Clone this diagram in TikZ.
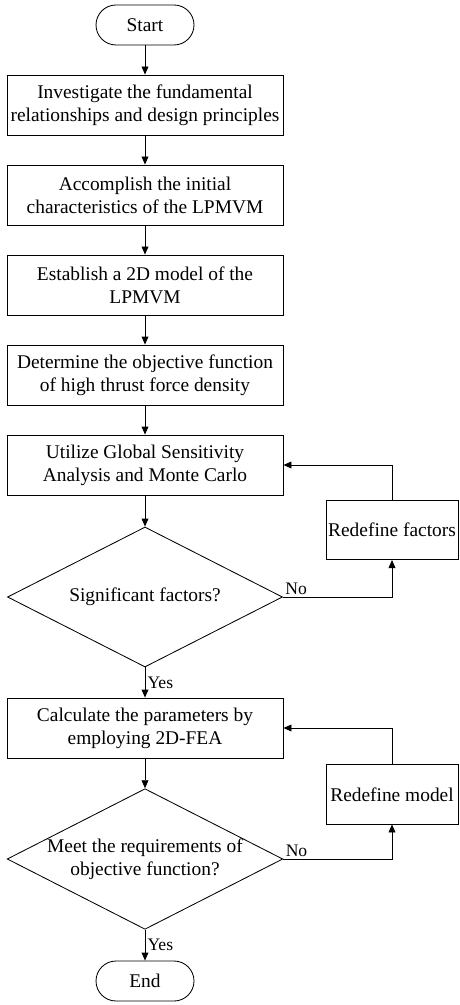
\documentclass[tikz,border=0pt]{standalone}
\usepackage{fontspec}
\setmainfont{Liberation Serif}
\usepackage{tikz}
\usetikzlibrary{positioning}
\usetikzlibrary{shapes.geometric}
\usetikzlibrary{arrows.meta}

\begin{document}
\begin{tikzpicture}[
		font=\fontsize{13.8}{16.4}\selectfont,
		every path/.style={line width=0.6pt},
		term/.style={draw, rectangle, rounded corners=5mm, minimum width=2.45cm, minimum height=1cm},
		stepbox/.style={draw, rectangle, align=center, minimum width=6.9cm, minimum height=1.5cm, inner sep=2pt},
		sidebox/.style={draw, rectangle, align=center, minimum width=3.3cm, minimum height=1.48cm, inner sep=1pt},
		decision/.style={draw, diamond, aspect=1.96, align=center, minimum width=6.875cm, minimum height=3.5cm, inner sep=0pt},
		lbl/.style={font=\fontsize{12.5}{14}\selectfont, inner sep=1.5pt},
		arr/.style={-{Triangle[length=2mm, width=1.7mm]}}]
		\useasboundingbox (0,0) rectangle (11.475,-25.125);
		
		\node at (3.625,-0.625) [term] (start) {Start};
		\node at (3.625,-2.625) [stepbox] (invest) {Investigate the fundamental\\relationships and design principles};
		\node at (3.625,-4.875) [stepbox] (accomp) {Accomplish the initial\\characteristics of the LPMVM};
		\node at (3.625,-7.125) [stepbox] (model) {Establish a 2D model of the\\LPMVM};
		\node at (3.625,-9.375) [stepbox] (objfun) {Determine the objective function\\of high thrust force density};
		\node at (3.625,-11.625) [stepbox] (gsa) {Utilize Global Sensitivity\\Analysis and Monte Carlo};
		\node at (3.625,-14.925) [decision] (signif) {Significant factors?};
		\node at (9.8,-13.25) [sidebox] (redfac) {Redefine factors};
		\node at (3.625,-18.2) [stepbox] (fea) {Calculate the parameters by\\employing 2D-FEA};
		\node at (3.625,-21.475) [decision] (meet) {Meet the requirements of\\objective function?};
		\node at (9.8,-19.86) [sidebox] (redmod) {Redefine model};
		\node at (3.625,-24.525) [term] (end) {End};
		
		\draw [arr] (start) -- (invest);
		\draw [arr] (invest) -- (accomp);
		\draw [arr] (accomp) -- (model);
		\draw [arr] (model) -- (objfun);
		\draw [arr] (objfun) -- (gsa);
		\draw [arr] (gsa) -- (signif);
		\draw [arr] (signif) -- node [right, lbl] {Yes} (fea);
		\draw [arr] (fea) -- (meet);
		\draw [arr] (meet) -- node [right, lbl] {Yes} (end);
		
		% feedback loops
		\draw [arr] (signif.east) -| node [pos=0, above right, lbl] {No} (redfac.south);
		\draw [arr] (redfac.north) |- (gsa.east);
		\draw [arr] (meet.east) -| node [pos=0, above right, lbl] {No} (redmod.south);
		\draw [arr] (redmod.north) |- (fea.east);
		
		\end{tikzpicture}
\end{document}
